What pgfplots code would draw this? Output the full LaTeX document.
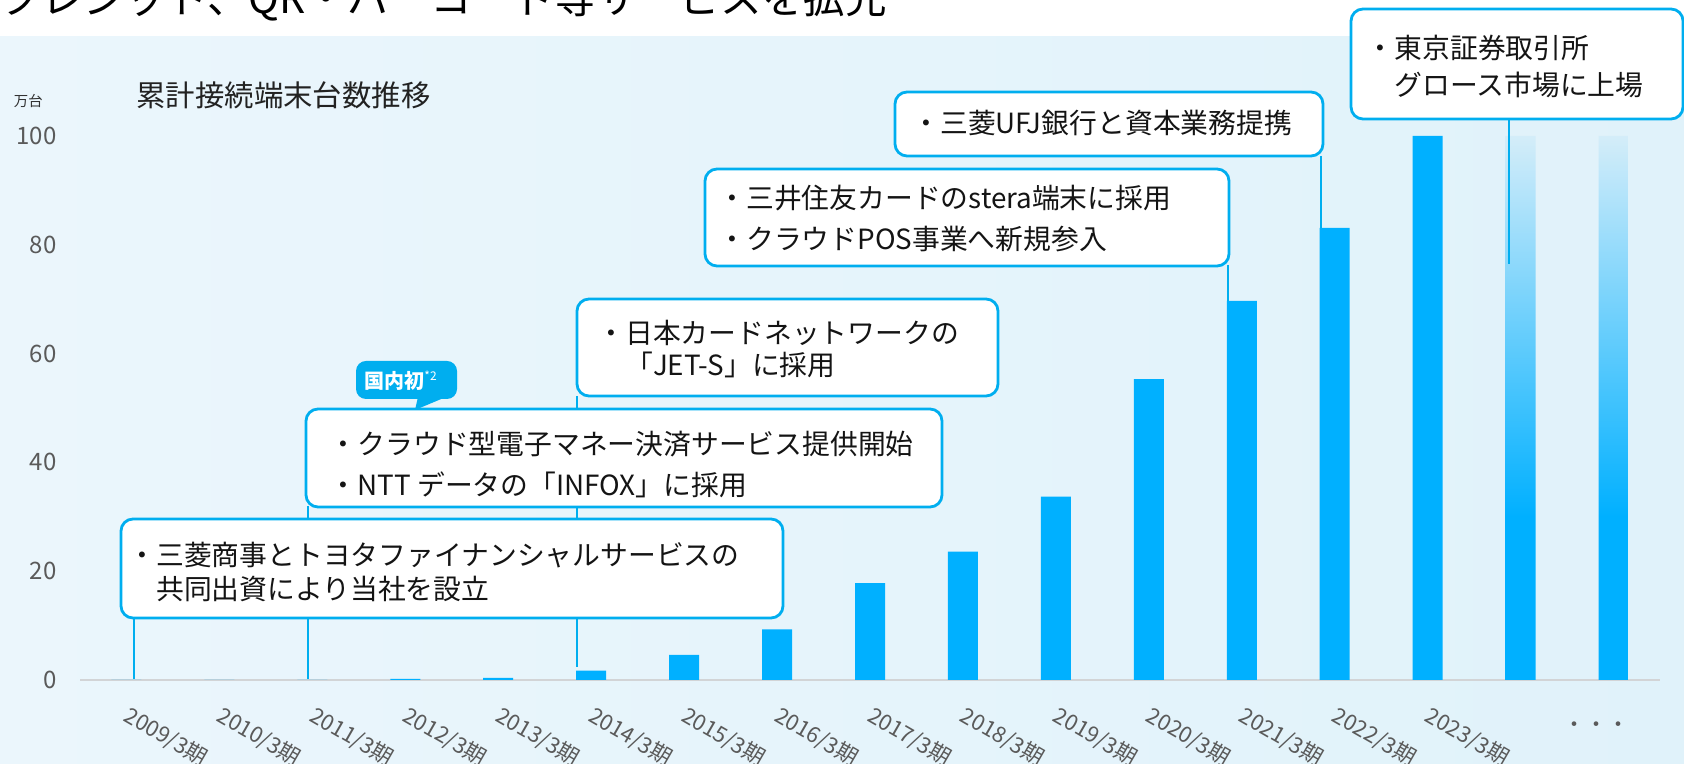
\documentclass[border=0pt]{standalone}
\usepackage{fontspec}
\setmainfont{Noto Sans CJK JP}
\usepackage{pgfplots}
\pgfplotsset{compat=1.18}
\definecolor{barc}{RGB}{0,176,255}
\definecolor{fadec}{RGB}{212,237,249}
\definecolor{linec}{RGB}{0,174,239}
\definecolor{bgl}{RGB}{235,246,252}
\definecolor{bgr}{RGB}{224,242,250}
\definecolor{tickc}{RGB}{90,90,90}
\definecolor{axc}{RGB}{210,212,214}
\pgfdeclareverticalshading{barfade}{100bp}{color(0bp)=(barc); color(40bp)=(barc); color(75bp)=(fadec); color(100bp)=(fadec)}
\newcommand\boxfont{\fontsize{13.9pt}{16pt}\selectfont}
\begin{document}
\begin{tikzpicture}
\useasboundingbox (0,0) rectangle (842pt,382pt);
\clip (0,0) rectangle (842pt,382pt);
\fill[white] (0,0) rectangle (842pt,382pt);
\shade[left color=bgl, right color=bgr] (0,0) rectangle (842pt,363.5pt);
\begin{scope}[x=0.5pt,y=-0.5pt,shift={(0pt,382pt)}]
\node[anchor=base west, inner sep=0pt, font=\fontsize{20.75pt}{22pt}\selectfont] at (0,14) {クレジット、QR・バーコード等サービスを拡充};
\node[anchor=base west, inner sep=0pt, font=\fontsize{7.2pt}{8pt}\selectfont, text={rgb,255:red,50;green,50;blue,50}] at (13.5,106.5) {万台};
\node[anchor=base west, inner sep=0pt, font=\fontsize{14.7pt}{16pt}\selectfont, text={rgb,255:red,34;green,34;blue,34}] at (136,106.7) {累計接続端末台数推移};
\end{scope}
\begin{axis}[at={(40pt,42pt)}, anchor=south west, scale only axis,
  width=790pt, height=272pt,
  xmin=-0.5, xmax=16.5, ymin=0, ymax=100,
  axis x line*=bottom, axis y line*=left,
  y axis line style={draw=none},
  x axis line style={draw=axc, line width=1pt},
  major tick length=0pt,
  ytick={0,20,40,60,80,100},
  xtick={0,...,14},
  xticklabels={2009/3期,2010/3期,2011/3期,2012/3期,2013/3期,2014/3期,2015/3期,2016/3期,2017/3期,2018/3期,2019/3期,2020/3期,2021/3期,2022/3期,2023/3期},
  /pgf/number format/assume math mode=true,
  yticklabel style={font=\fontsize{12pt}{12pt}\selectfont, text=tickc, inner sep=0pt, xshift=-11.5pt},
  xticklabel style={font=\fontsize{11pt}{11pt}\selectfont, text=tickc, inner sep=0pt, anchor=north west, xshift=2.5pt, yshift=-12pt, rotate=-30},
  clip=false]
\addplot[ybar, bar width=15pt, bar shift=0pt, fill=barc, draw=none] coordinates {
(0,0) (1,0) (2,0) (3,0.2) (4,0.4) (5,1.7) (6,4.6) (7,9.3) (8,17.8) (9,23.6) (10,33.7) (11,55.3) (12,69.7) (13,83.1) (14,100)};
\addplot[ybar, bar width=15pt, bar shift=0pt, draw=none, shade, shading=barfade] coordinates {(15,100) (16,100)};
\end{axis}
\begin{scope}[x=0.5pt,y=-0.5pt,shift={(0pt,382pt)}]
\node[anchor=base, inner sep=0pt, font=\fontsize{11pt}{11pt}\selectfont, text=tickc] at (1596,733) {・・・};
% connector lines
\begin{scope}[draw=linec, line width=1.2pt]
\draw (134,618) -- (134,679);
\draw (308,506) -- (308,679);
\draw (577,396) -- (577,667);
\draw (1228,265) -- (1228,301);
\draw (1321,156) -- (1321,228);
\draw (1509,119) -- (1509,264);
\end{scope}
% boxes
\begin{scope}[draw=linec, line width=1.4pt, fill=white, rounded corners=6pt]
\filldraw (121,519) rectangle (783,618);
\filldraw (577,299) rectangle (998,396);
\filldraw (306,409) rectangle (942,507);
\filldraw (705,169) rectangle (1229,266);
\filldraw (895,92) rectangle (1323,156);
\filldraw (1351,9) rectangle (1683,119);
\end{scope}
\begin{scope}[every node/.style={anchor=base west, inner sep=0pt, font=\boxfont, text={rgb,255:red,20;green,20;blue,20}}]
\node at (128,565.5) {・三菱商事とトヨタファイナンシャルサービスの};
\node at (128,599.5) {\phantom{・}共同出資により当社を設立};
\node at (329.5,454.5) {・クラウド型電子マネー決済サービス提供開始};
\node at (329.5,495.5) {・NTT データの「INFOX」に採用};
\node at (597,343.5) {・日本カードネットワークの};
\node at (597,375.5) {\phantom{・}「JET-S」に採用};
\node at (718,208.5) {・三井住友カードのstera端末に採用};
\node at (718,249.5) {・クラウドPOS事業へ新規参入};
\node at (912,134) {・三菱UFJ銀行と資本業務提携};
\node at (1366.5,58.5) {・東京証券取引所};
\node at (1366.5,95.5) {\phantom{・}グロース市場に上場};
\end{scope}
% tag
\fill[linec, rounded corners=5pt] (356,361) rectangle (457,399);
\fill[linec] (418,397) -- (446,397) -- (415,410) -- cycle;
\node[anchor=base west, inner sep=0pt, text=white, font=\fontsize{10pt}{10pt}\selectfont\bfseries] at (364,388.6) {国内初\raisebox{0.42em}{\fontsize{6pt}{6pt}\selectfont\mdseries *2}};
\end{scope}
\end{tikzpicture}
\end{document}
